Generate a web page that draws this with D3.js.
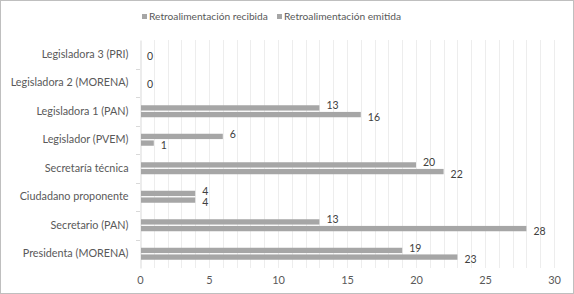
<!DOCTYPE html>
<html><head><meta charset="utf-8">
<script src="https://cdn.jsdelivr.net/npm/d3@7"></script>
<style>body{margin:0;background:#fff}svg{display:block}</style>
</head><body>
<script>
const categories = ["Legisladora 3 (PRI)","Legisladora 2 (MORENA)","Legisladora 1 (PAN)","Legislador (PVEM)","Secretaría técnica","Ciudadano proponente","Secretario (PAN)","Presidenta (MORENA)"];
const seriesNames = ["Retroalimentación recibida","Retroalimentación emitida"];
const recibida = [0,0,13,6,20,4,13,19];
const emitida = [0,0,16,1,22,4,28,23];
const xTicks = [0,5,10,15,20,25,30];

const W=574,H=294;
const svg=d3.select("body").append("svg").attr("width",W).attr("height",H);
const font="Lato, 'Open Sans', sans-serif";
svg.append("rect").attr("x",0.5).attr("y",0.5).attr("width",W-1).attr("height",H-1).attr("fill","#fff").attr("stroke","#bfbfbf");

const m={l:140,r:20,t:40,b:26};
const x=d3.scaleLinear().domain([0,30]).range([m.l,W-m.r]);
const y=d3.scaleBand().domain(categories).range([m.t,H-m.b]);
const sub=d3.scaleBand().domain(seriesNames).range([y.bandwidth()/2-6,y.bandwidth()/2+6]).paddingInner(0.2);

// gridlines every unit
svg.append("g").selectAll("line").data(d3.range(1,31)).join("line")
 .attr("x1",d=>Math.round(x(d))+0.5).attr("x2",d=>Math.round(x(d))+0.5).attr("y1",m.t).attr("y2",H-m.b)
 .attr("stroke","#ededed").attr("stroke-width",1);

// category axis
const ya=svg.append("g").attr("transform",`translate(${m.l+0.5},0)`)
 .call(d3.axisLeft(y).tickSize(0).tickPadding(12));
ya.select(".domain").attr("stroke","#d9d9d9");
ya.selectAll("text").attr("font-family",font).attr("font-size","10.8px").attr("fill","#595959");
// boundary ticks
svg.append("g").selectAll("line").data(categories.slice(1)).join("line")
 .attr("x1",m.l-4).attr("x2",m.l).attr("y1",d=>Math.round(y(d))+0.5).attr("y2",d=>Math.round(y(d))+0.5)
 .attr("stroke","#d9d9d9");

// x axis labels
const xa=svg.append("g").attr("transform",`translate(0,${H-m.b})`)
 .call(d3.axisBottom(x).tickValues(xTicks).tickSize(0).tickPadding(8));
xa.select(".domain").remove();
xa.selectAll("text").attr("font-family",font).attr("font-size","11px").attr("fill","#595959");

const series=[recibida,emitida];
const colors=["#a6a6a6","#a6a6a6"];
series.forEach((vals,si)=>{
  const g=svg.append("g");
  g.selectAll("rect").data(vals).join("rect")
   .attr("x",x(0)+1).attr("y",(d,i)=>y(categories[i])+sub(seriesNames[si]))
   .attr("width",d=>Math.max(0,x(d)-x(0)-1)).attr("height",sub.bandwidth()).attr("fill",colors[si]);
  g.selectAll("text").data(vals).join("text")
   .attr("x",d=>x(d)+7)
   .attr("y",(d,i)=> d===0 ? y(categories[i])+y.bandwidth()/2+2
        : y(categories[i])+sub(seriesNames[si])+sub.bandwidth()/2+(si===0?-2.5:2.5))
   .attr("dy","0.35em")
   .attr("font-family",font).attr("font-size","10.5px").attr("fill","#404040")
   .text((d,i)=> (d===0 && si===1) ? "" : d);
});

// legend
const leg=svg.append("g").attr("transform","translate(0,16)");
const lx=[142,277];
seriesNames.forEach((s,i)=>{
  leg.append("rect").attr("x",lx[i]).attr("y",-2).attr("width",5).attr("height",5).attr("fill",colors[i]);
  leg.append("text").attr("x",lx[i]+7).attr("y",0).attr("dy","0.35em")
   .attr("font-family",font).attr("font-size","10.2px").attr("fill","#595959").text(s);
});
</script>
</body></html>
